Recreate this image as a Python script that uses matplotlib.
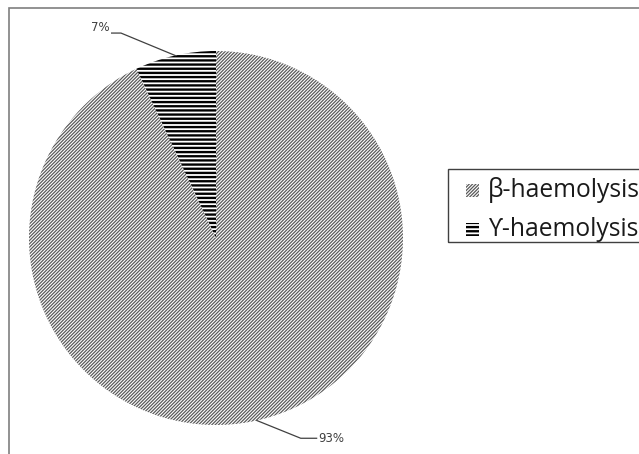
import numpy as np
import matplotlib.pyplot as plt
from matplotlib.patches import Rectangle

labels = ['β-haemolysis', 'ϒ-haemolysis']
shares = [93, 7]
hatches = ['/' * 10, '-' * 4]
hatch_colors = ['#5a5a5a', '#000000']
hatch_widths = [0.9, 1.7]

W, H = 639, 454
fig = plt.figure(figsize=(W / 100, H / 100), dpi=100)


def px_rect(x0, y0, w, h, **kw):
    # rectangle given in pixel coordinates measured from the top-left corner
    return Rectangle((x0 / W, 1 - (y0 + h) / H), w / W, h / H,
                     transform=fig.transFigure, **kw)


# outer chart frame (only top and left edges show)
fig.patches.append(px_rect(9, 8, 700, 500, fill=False,
                           edgecolor='#7f7f7f', linewidth=1.2))

cx, cy, r = 216, 238, 187
ax = fig.add_axes([(cx - r) / W, (H - cy - r) / H, 2 * r / W, 2 * r / H])

wedges, _ = ax.pie(shares, startangle=90, counterclock=False,
                   colors=['white', 'white'], radius=1,
                   wedgeprops=dict(linewidth=0))
for w, h, c, lw in zip(wedges, hatches, hatch_colors, hatch_widths):
    w.set_hatch(h)
    w.set_edgecolor(c)
    w.set_linewidth(0)
    if hasattr(w, 'set_hatch_linewidth'):
        w.set_hatch_linewidth(lw)
ax.set_xlim(-1, 1)
ax.set_ylim(-1, 1)
ax.set_aspect('auto')

# percentage labels with leader lines from the middle of each wedge
label_color = '#404040'
for w, val in zip(wedges, shares):
    mid = np.deg2rad((w.theta1 + w.theta2) / 2)
    ex, ey = np.cos(mid), np.sin(mid)
    if ey > 0:
        kx, ky = ex - 0.29, ey + 0.12
        tx = kx - 0.05
        ax.plot([ex, kx, tx], [ey, ky, ky], color=label_color, lw=0.9, clip_on=False)
        ax.text(tx - 0.01, ky + 0.03, f'{val}%', ha='right', va='center',
                fontsize=8.5, color=label_color, family='DejaVu Sans')
    else:
        kx, ky = ex + 0.235, ey - 0.095
        tx = kx + 0.085
        ax.plot([ex, kx, tx], [ey, ky, ky], color=label_color, lw=0.9, clip_on=False)
        ax.text(tx + 0.01, ky, f'{val}%', ha='left', va='center',
                fontsize=8.5, color=label_color, family='DejaVu Sans')

# legend box drawn by hand so the entries sit where they should
fig.patches.append(px_rect(448, 169, 300, 73, fill=False,
                           edgecolor='#404040', linewidth=1.0))
rows_y = [190, 229]
for lab, h, c, lw, y in zip(labels, hatches, hatch_colors, hatch_widths, rows_y):
    sw = px_rect(466, y - 6.5, 13, 13, facecolor='white', edgecolor=c,
                 linewidth=0, hatch=h)
    if hasattr(sw, 'set_hatch_linewidth'):
        sw.set_hatch_linewidth(lw)
    fig.patches.append(sw)
    fig.text(488 / W, 1 - y / H, lab, ha='left', va='center',
             fontsize=17.7, color='#1a1a1a',
             family=['Open Sans', 'DejaVu Sans'])

fig.savefig('out.png', dpi=100)
